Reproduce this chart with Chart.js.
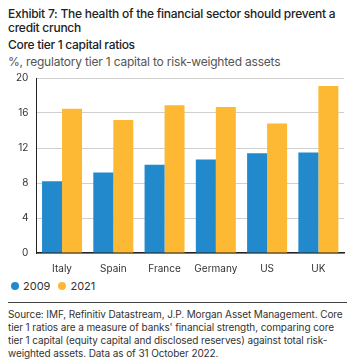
<!DOCTYPE html>
<html>
<head>
    <title>Core tier 1 capital ratios</title>
    <script src="https://cdn.jsdelivr.net/npm/chart.js@4.4.0/dist/chart.umd.min.js"></script>
    <style>
        body {
            margin: 0;
            width: 352px;
            height: 364px;
            background: #fff;
            font-family: Inter, "Noto Sans", sans-serif;
            color: #222;
            overflow: hidden;
        }
        .wrap {
            padding: 7px 8px 0 8px;
        }
        .title {
            font-size: 12px;
            font-weight: 500;
            line-height: 14px;
            letter-spacing: -0.25px;
        }
        .subtitle {
            font-size: 12px;
            font-weight: 500;
            line-height: 14px;
            margin-top: 3px;
            letter-spacing: -0.3px;
        }
        .units {
            font-size: 12px;
            line-height: 14px;
            color: #555;
            margin-top: 3px;
            letter-spacing: -0.2px;
        }
        .chart-box {
            position: absolute;
            left: 0;
            top: 64px;
            width: 352px;
            height: 213px;
        }
        .legend {
            position: absolute;
            left: 11px;
            top: 279px;
            height: 14px;
            display: flex;
            align-items: center;
            font-size: 11px;
            color: #333;
        }
        .legend span.item {
            display: flex;
            align-items: center;
            margin-right: 8px;
        }
        .legend i {
            display: inline-block;
            width: 8px;
            height: 8px;
            border-radius: 50%;
            margin-right: 4px;
        }
        .rule {
            position: absolute;
            left: 8px;
            right: 5px;
            top: 302px;
            border-top: 1px solid #444;
        }
        .source {
            position: absolute;
            left: 8px;
            top: 308px;
            width: 340px;
            font-size: 10px;
            line-height: 13px;
            color: #333;
            letter-spacing: -0.1px;
        }
    </style>
</head>
<body>
    <div class="wrap">
        <div class="title">Exhibit 7: The health of the financial sector should prevent a credit crunch</div>
        <div class="subtitle">Core tier 1 capital ratios</div>
        <div class="units">%, regulatory tier 1 capital to risk-weighted assets</div>
    </div>
    <div class="chart-box">
        <canvas id="capitalChart"></canvas>
    </div>
    <div class="legend" id="legend"></div>
    <div class="rule"></div>
    <div class="source">Source: IMF, Refinitiv Datastream, J.P. Morgan Asset Management. Core tier 1 ratios are a measure of banks' financial strength, comparing core tier 1 capital (equity capital and disclosed reserves) against total risk-weighted assets. Data as of 31 October 2022.</div>

    <script>
        const countries = ['Italy', 'Spain', 'France', 'Germany', 'US', 'UK'];
        const ratios2009 = [8.2, 9.2, 10.1, 10.7, 11.4, 11.5];
        const ratios2021 = [16.5, 15.2, 16.9, 16.7, 14.8, 19.1];
        const yTicks = [0, 4, 8, 12, 16, 20];

        const chart = new Chart(document.getElementById('capitalChart'), {
            type: 'bar',
            data: {
                labels: countries,
                datasets: [{
                    label: '2009',
                    data: ratios2009,
                    backgroundColor: '#2189cc'
                }, {
                    label: '2021',
                    data: ratios2021,
                    backgroundColor: '#fdb933'
                }]
            },
            options: {
                responsive: true,
                maintainAspectRatio: false,
                animation: false,
                datasets: {
                    bar: {
                        barPercentage: 1,
                        categoryPercentage: 0.78
                    }
                },
                layout: {
                    padding: { left: 8, right: 8, top: 0, bottom: 0 }
                },
                plugins: {
                    legend: { display: false },
                    tooltip: { enabled: false }
                },
                scales: {
                    x: {
                        grid: { display: false },
                        border: { color: '#222', width: 1.5 },
                        ticks: {
                            color: '#333',
                            font: { family: 'Inter', size: 10 },
                            padding: 2
                        }
                    },
                    y: {
                        min: 0,
                        max: 20,
                        afterBuildTicks: axis => {
                            axis.ticks = yTicks.map(v => ({ value: v }));
                        },
                        grid: { color: '#cfcfcf', drawTicks: false },
                        border: { color: '#222', width: 1 },
                        ticks: {
                            color: '#333',
                            font: { family: 'Inter', size: 10 },
                            padding: 8
                        }
                    }
                }
            }
        });

        // Legend built from the chart's datasets
        document.getElementById('legend').innerHTML = chart.data.datasets.map(ds => `
            <span class="item"><i style="background:${ds.backgroundColor}"></i>${ds.label}</span>
        `).join('');
    </script>
</body>
</html>
